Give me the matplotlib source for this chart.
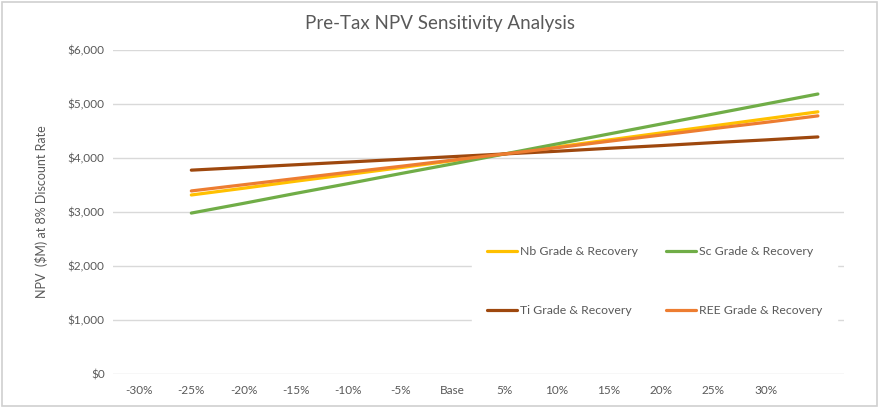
import matplotlib
matplotlib.use('Agg')
import matplotlib.pyplot as plt
from matplotlib.ticker import FuncFormatter
from matplotlib.patches import Rectangle

plt.rcParams['font.family'] = ['Lato', 'DejaVu Sans']

# category labels (Excel axis has one extra unlabelled slot at the end)
x_labels = ['-30%', '-25%', '-20%', '-15%', '-10%', '-5%', 'Base',
            '5%', '10%', '15%', '20%', '25%', '30%', '']

# NPV values ($M); the series sit one slot to the right
nb_vals = [3315, 3440, 3570, 3695, 3820, 3950, 4075, 4205, 4335, 4465, 4595, 4725, 4855]
sc_vals = [2980, 3160, 3345, 3525, 3710, 3890, 4075, 4260, 4445, 4630, 4815, 5000, 5185]
ti_vals = [3775, 3825, 3875, 3925, 3975, 4025, 4075, 4125, 4180, 4230, 4285, 4335, 4390]
ree_vals = [3390, 3505, 3620, 3735, 3845, 3960, 4075, 4190, 4310, 4425, 4545, 4660, 4780]

series = [
    ('Nb Grade & Recovery', nb_vals, '#FFC000'),
    ('Sc Grade & Recovery', sc_vals, '#70AD47'),
    ('Ti Grade & Recovery', ti_vals, '#9E480E'),
    ('REE Grade & Recovery', ree_vals, '#ED7D31'),
]

txt_col = '#595959'
grid_col = '#D9D9D9'

fig = plt.figure(figsize=(8.8, 4.08), dpi=100)
fig.patches.append(Rectangle((0.002, 0.004), 0.995, 0.992, transform=fig.transFigure,
                             fill=False, edgecolor='#D0D0D0', lw=1.2))
ax = fig.add_axes([113 / 880, 1 - 374 / 408, (844 - 113) / 880, (374 - 50) / 408])

x_pos = list(range(1, 1 + len(nb_vals)))
lines = {}
for name, vals, col in series:
    lines[name], = ax.plot(x_pos, vals, color=col, lw=2.3, label=name,
                           solid_capstyle='round', zorder=3)

ax.set_xlim(-0.5, len(x_labels) - 0.5)
ax.set_ylim(0, 6000)
ax.set_yticks(range(0, 6001, 1000))
ax.yaxis.set_major_formatter(FuncFormatter(lambda v, p: '${:,.0f}'.format(v)))
ax.set_xticks(range(len(x_labels)))
ax.set_xticklabels(x_labels)
ax.tick_params(length=0, labelsize=8.5, colors=txt_col, pad=8)
ax.tick_params(axis='y', pad=6)
ax.grid(axis='y', color=grid_col, lw=1)
ax.set_axisbelow(True)
for sp in ax.spines.values():
    sp.set_visible(False)

ax.set_ylabel('NPV  ($M) at 8% Discount Rate', fontsize=9, color=txt_col, labelpad=14)
fig.text(0.5, 1 - 23 / 408, 'Pre-Tax NPV Sensitivity Analysis', ha='center', va='center',
         fontsize=13.5, color=txt_col)

# legend filled column-wise, so order handles to give Nb/Sc on row one
order = ['Nb Grade & Recovery', 'Ti Grade & Recovery',
         'Sc Grade & Recovery', 'REE Grade & Recovery']
leg = ax.legend([lines[k] for k in order], order, ncol=2, loc='center',
                bbox_to_anchor=((480 + 829) / 2 / 880, 1 - 281 / 408),
                bbox_transform=fig.transFigure, frameon=True, fancybox=False,
                facecolor='white', edgecolor='white', framealpha=1,
                fontsize=8.8, handlelength=2.5, handletextpad=0.2,
                columnspacing=2.3, labelspacing=3.9, borderpad=1.2)
for t in leg.get_texts():
    t.set_color(txt_col)
leg.set_zorder(5)

fig.savefig('out.png', dpi=100)
